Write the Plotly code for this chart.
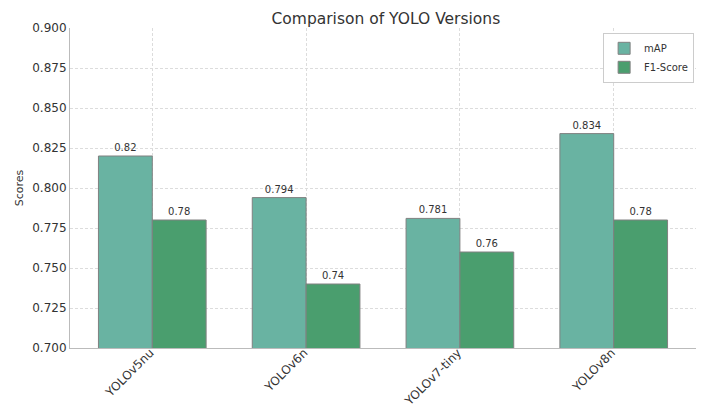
import plotly.graph_objects as go

models = ["YOLOv5nu", "YOLOv6n", "YOLOv7-tiny", "YOLOv8n"]
map_vals = [0.82, 0.794, 0.781, 0.834]
f1_vals = [0.78, 0.74, 0.76, 0.78]
yticks = [0.700, 0.725, 0.750, 0.775, 0.800, 0.825, 0.850, 0.875, 0.900]

xpos = list(range(len(models)))

fig = go.Figure()
fig.add_trace(go.Bar(
    x=xpos, y=map_vals, name="mAP",
    marker=dict(color="#69b3a2", line=dict(color="#808080", width=1)),
    text=[str(v) for v in map_vals], textposition="outside",
    textfont=dict(size=10, color="#333333"), cliponaxis=False,
))
fig.add_trace(go.Bar(
    x=xpos, y=f1_vals, name="F1-Score",
    marker=dict(color="#4a9e6e", line=dict(color="#808080", width=1)),
    text=[str(v) for v in f1_vals], textposition="outside",
    textfont=dict(size=10, color="#333333"), cliponaxis=False,
))

fig.update_layout(
    width=708, height=409,
    margin=dict(l=70, r=12, t=28, b=61),
    paper_bgcolor="white", plot_bgcolor="white",
    font=dict(family="DejaVu Sans", color="#333333"),
    title=dict(text="Comparison of YOLO Versions", x=0.545, xanchor="center",
               y=0.955, yanchor="middle", font=dict(size=15.5, color="#333333")),
    barmode="group", bargap=0.3, bargroupgap=0,
    showlegend=True,
    legend=dict(x=0.997, y=0.985, xanchor="right", yanchor="top",
                bgcolor="white", bordercolor="#cccccc", borderwidth=1,
                font=dict(size=10), itemwidth=30, tracegroupgap=0),
    uniformtext=dict(mode=False),
)
fig.update_xaxes(
    range=[-0.535, 3.535], tickvals=xpos, ticktext=models, tickangle=-45,
    showgrid=True, gridcolor="#dcdcdc", griddash="3px,2px", gridwidth=1,
    showline=True, linecolor="#bbbbbb", linewidth=1, ticks="", automargin=False,
    tickfont=dict(size=12, color="#333333"), zeroline=False,
    ticklabelstandoff=-8, ticklabelshift=-2,
)
fig.update_yaxes(
    range=[0.7, 0.9], tickvals=yticks, ticktext=[f"{t:.3f}" for t in yticks],
    showgrid=True, gridcolor="#dcdcdc", griddash="3px,2px", gridwidth=1,
    showline=True, linecolor="#bbbbbb", linewidth=1, ticks="", automargin=False,
    tickfont=dict(size=12, color="#333333"), zeroline=False,
    title=dict(text="Scores", font=dict(size=11, color="#333333"), standoff=6),
)

fig.write_html("out.html")
